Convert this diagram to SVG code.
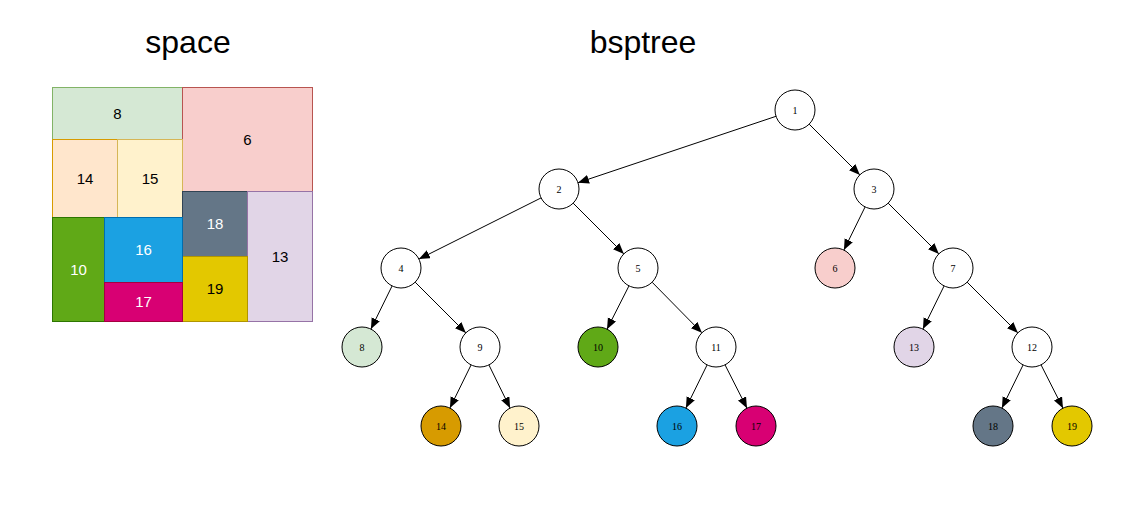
<svg xmlns="http://www.w3.org/2000/svg" width="1131" height="505" viewBox="0 0 1131 505">
<style>
.title{font-family:"Liberation Sans",Arial,sans-serif;font-size:32px;fill:#000;text-anchor:middle}
.rl{font-family:"Liberation Sans",Arial,sans-serif;font-size:15px;text-anchor:middle;dominant-baseline:central}
.dk{fill:#000}.wt{fill:#fff}
.nd{stroke:#000;stroke-width:1}
.nl{font-family:"Liberation Serif","Times New Roman",serif;font-size:10px;text-anchor:middle;dominant-baseline:central;fill:#000}
.edge{stroke:#000;stroke-width:1;fill:none;marker-end:url(#arr)}
</style>
<defs>
<marker id="arr" markerUnits="userSpaceOnUse" markerWidth="12" markerHeight="10" refX="11" refY="4.5" orient="auto">
<path d="M0,0 L11,4.5 L0,9 Z" fill="#000"/>
</marker>
</defs>
<rect width="1131" height="505" fill="#fff"/>
<text class="title" x="188" y="53">space</text>
<text class="title" x="643" y="53">bsptree</text>
<g id="space">
<g id="r8"><rect x="52.5" y="87.5" width="130" height="52" fill="#d5e8d4" stroke="#82b366"/><text class="rl dk" x="117.5" y="113">8</text></g>
<g id="r6"><rect x="182.5" y="87.5" width="130" height="104" fill="#f8cecc" stroke="#b85450"/><text class="rl dk" x="247.5" y="139">6</text></g>
<g id="r14"><rect x="52.5" y="139.5" width="65" height="78" fill="#ffe6cc" stroke="#d79b00"/><text class="rl dk" x="85" y="178">14</text></g>
<g id="r15"><rect x="117.5" y="139.5" width="65" height="78" fill="#fff2cc" stroke="#d6b656"/><text class="rl dk" x="150" y="178">15</text></g>
<g id="r18"><rect x="182.5" y="191.5" width="65" height="65" fill="#647687" stroke="#314354"/><text class="rl wt" x="215" y="223.5">18</text></g>
<g id="r13"><rect x="247.5" y="191.5" width="65" height="130" fill="#e1d5e7" stroke="#9673a6"/><text class="rl dk" x="280" y="256">13</text></g>
<g id="r19"><rect x="182.5" y="256.5" width="65" height="65" fill="#e3c800" stroke="#b09500"/><text class="rl dk" x="215" y="288.5">19</text></g>
<g id="r10"><rect x="52.5" y="217.5" width="52" height="104" fill="#60a917" stroke="#2d7600"/><text class="rl wt" x="78.5" y="269">10</text></g>
<g id="r16"><rect x="104.5" y="217.5" width="78" height="65" fill="#1ba1e2" stroke="#006eaf"/><text class="rl wt" x="143.5" y="249.5">16</text></g>
<g id="r17"><rect x="104.5" y="282.5" width="78" height="39" fill="#d80073" stroke="#a50040"/><text class="rl wt" x="143.5" y="301.5">17</text></g>
</g>
<g id="connectors">
<line class="edge" x1="776" y1="116.3" x2="578" y2="182.7"/>
<line class="edge" x1="809.1" y1="124.1" x2="859.9" y2="174.9"/>
<line class="edge" x1="541.1" y1="197.9" x2="418.9" y2="259.1"/>
<line class="edge" x1="573.1" y1="203.1" x2="623.9" y2="253.9"/>
<line class="edge" x1="865.1" y1="206.9" x2="843.9" y2="250.1"/>
<line class="edge" x1="888.1" y1="203.1" x2="938.9" y2="253.9"/>
<line class="edge" x1="392.1" y1="285.9" x2="370.9" y2="329.1"/>
<line class="edge" x1="415.1" y1="282.1" x2="465.9" y2="332.9"/>
<line class="edge" x1="629" y1="285.8" x2="607" y2="329.2"/>
<line class="edge" x1="652.1" y1="282.2" x2="701.9" y2="332.8"/>
<line class="edge" x1="944.1" y1="285.9" x2="922.9" y2="329.1"/>
<line class="edge" x1="967.1" y1="282.1" x2="1017.9" y2="332.9"/>
<line class="edge" x1="471.1" y1="364.9" x2="449.9" y2="408.1"/>
<line class="edge" x1="488.9" y1="364.9" x2="510.1" y2="408.1"/>
<line class="edge" x1="707.1" y1="364.9" x2="685.9" y2="408.1"/>
<line class="edge" x1="725" y1="364.8" x2="747" y2="408.2"/>
<line class="edge" x1="1023.1" y1="364.9" x2="1001.9" y2="408.1"/>
<line class="edge" x1="1041" y1="364.8" x2="1063" y2="408.2"/>
</g>
<g id="n1"><circle class="nd" cx="795" cy="110" r="20" fill="#fff"/><text class="nl" x="795" y="110">1</text></g>
<g id="n2"><circle class="nd" cx="559" cy="189" r="20" fill="#fff"/><text class="nl" x="559" y="189">2</text></g>
<g id="n3"><circle class="nd" cx="874" cy="189" r="20" fill="#fff"/><text class="nl" x="874" y="189">3</text></g>
<g id="n4"><circle class="nd" cx="401" cy="268" r="20" fill="#fff"/><text class="nl" x="401" y="268">4</text></g>
<g id="n5"><circle class="nd" cx="638" cy="268" r="20" fill="#fff"/><text class="nl" x="638" y="268">5</text></g>
<g id="n6"><circle class="nd" cx="835" cy="268" r="20" fill="#f8cecc"/><text class="nl" x="835" y="268">6</text></g>
<g id="n7"><circle class="nd" cx="953" cy="268" r="20" fill="#fff"/><text class="nl" x="953" y="268">7</text></g>
<g id="n8"><circle class="nd" cx="362" cy="347" r="20" fill="#d5e8d4"/><text class="nl" x="362" y="347">8</text></g>
<g id="n9"><circle class="nd" cx="480" cy="347" r="20" fill="#fff"/><text class="nl" x="480" y="347">9</text></g>
<g id="n10"><circle class="nd" cx="598" cy="347" r="20" fill="#60a917"/><text class="nl" x="598" y="347">10</text></g>
<g id="n11"><circle class="nd" cx="716" cy="347" r="20" fill="#fff"/><text class="nl" x="716" y="347">11</text></g>
<g id="n13"><circle class="nd" cx="914" cy="347" r="20" fill="#e1d5e7"/><text class="nl" x="914" y="347">13</text></g>
<g id="n12"><circle class="nd" cx="1032" cy="347" r="20" fill="#fff"/><text class="nl" x="1032" y="347">12</text></g>
<g id="n14"><circle class="nd" cx="441" cy="426" r="20" fill="#d79b00"/><text class="nl" x="441" y="426">14</text></g>
<g id="n15"><circle class="nd" cx="519" cy="426" r="20" fill="#fff2cc"/><text class="nl" x="519" y="426">15</text></g>
<g id="n16"><circle class="nd" cx="677" cy="426" r="20" fill="#1ba1e2"/><text class="nl" x="677" y="426">16</text></g>
<g id="n17"><circle class="nd" cx="756" cy="426" r="20" fill="#d80073"/><text class="nl" x="756" y="426">17</text></g>
<g id="n18"><circle class="nd" cx="993" cy="426" r="20" fill="#647687"/><text class="nl" x="993" y="426">18</text></g>
<g id="n19"><circle class="nd" cx="1072" cy="426" r="20" fill="#e3c800"/><text class="nl" x="1072" y="426">19</text></g>
</svg>
